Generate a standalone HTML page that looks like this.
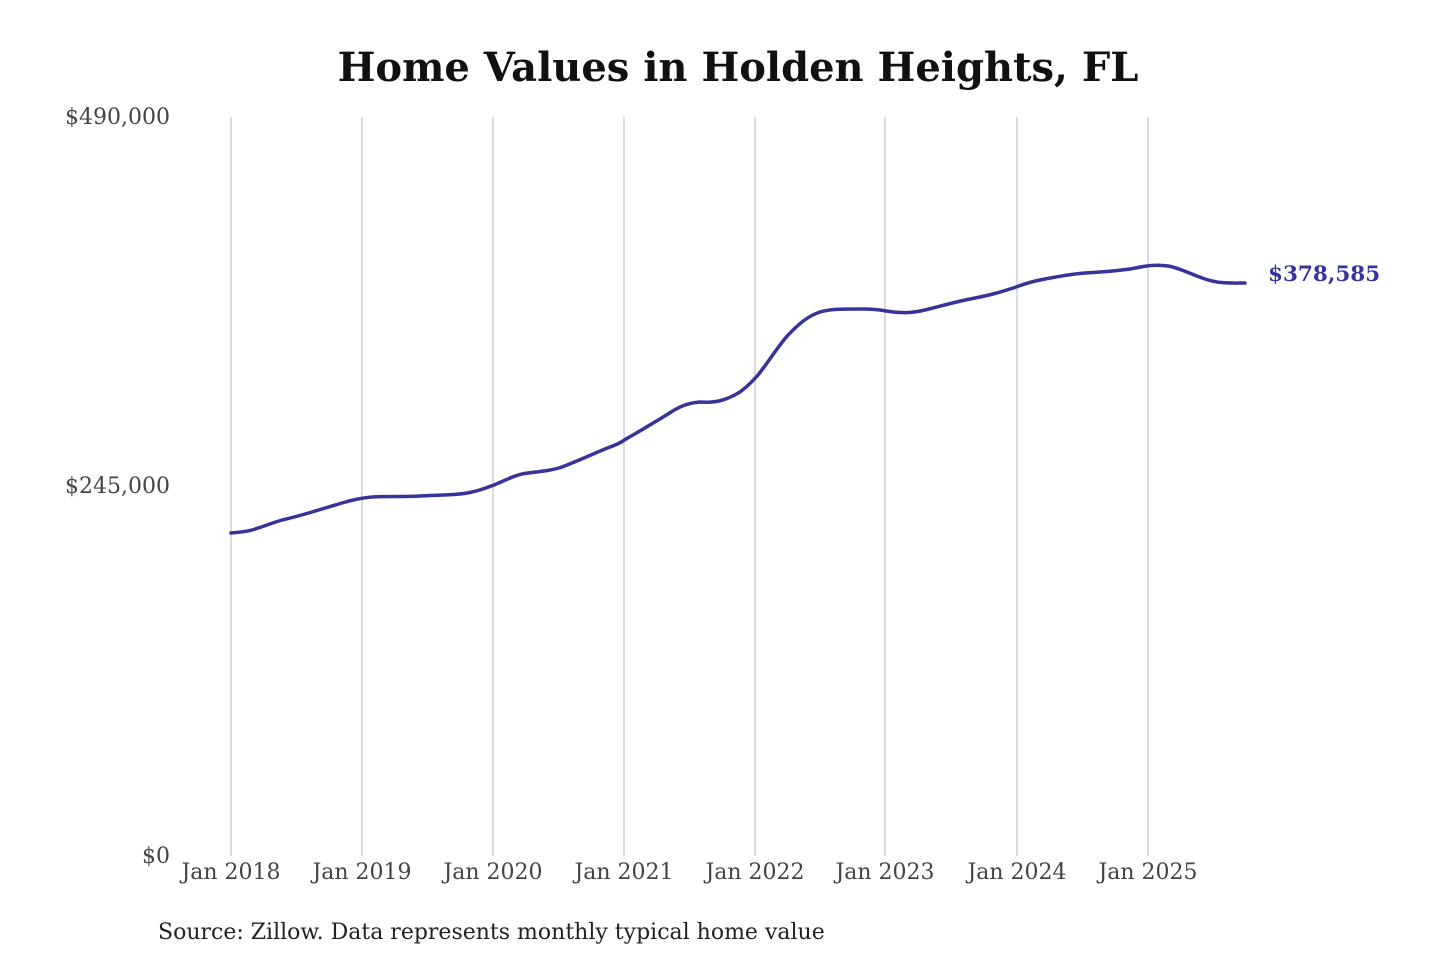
<!DOCTYPE html>
<html><head><meta charset="utf-8"><style>
body{margin:0;background:#fff;}
svg{display:block;font-family:"DejaVu Serif","Liberation Serif",serif;}
</style></head><body>
<svg width="1440" height="960" viewBox="0 0 1440 960">
<rect width="1440" height="960" fill="#fff"/>
<text x="738" y="81" text-anchor="middle" font-size="40" font-weight="bold" fill="#111">Home Values in Holden Heights, FL</text>
<g stroke="#c8c8c8" stroke-width="1.3">
<line x1="231" y1="117" x2="231" y2="856"/>
<line x1="362" y1="117" x2="362" y2="856"/>
<line x1="493" y1="117" x2="493" y2="856"/>
<line x1="624" y1="117" x2="624" y2="856"/>
<line x1="755" y1="117" x2="755" y2="856"/>
<line x1="885" y1="117" x2="885" y2="856"/>
<line x1="1017" y1="117" x2="1017" y2="856"/>
<line x1="1148" y1="117" x2="1148" y2="856"/>
</g>
<g font-size="22" fill="#444" text-anchor="end">
<text x="170" y="124">$490,000</text>
<text x="170" y="493">$245,000</text>
<text x="170" y="863">$0</text>
</g>
<g font-size="22" fill="#444" text-anchor="middle">
<text x="231" y="879">Jan 2018</text>
<text x="362" y="879">Jan 2019</text>
<text x="493" y="879">Jan 2020</text>
<text x="624" y="879">Jan 2021</text>
<text x="755" y="879">Jan 2022</text>
<text x="885" y="879">Jan 2023</text>
<text x="1017" y="879">Jan 2024</text>
<text x="1148" y="879">Jan 2025</text>
</g>
<path fill="none" stroke="#37339a" stroke-width="3.5" stroke-linejoin="round" stroke-linecap="round"
d="M231,533 C240,532 245,532 252,530 C265,526 272,523 282,520 C295,517 302,515 312,512 C325,508 332,506 342,503 C352,500 360,498 372,497 C390,496 400,497 420,496 C440,495 460,495 472,492 C482,490 488,487 494,485 C510,478 518,474 528,473 C545,471 553,470 562,467 C580,460 595,453 610,447 C618,444 620,443 626,439 C640,431 655,422 668,414 C680,406 688,403 700,402 C715,403 725,401 740,392 C748,386 752,382 758,375 C770,360 780,343 790,333 C800,323 808,316 820,312 C830,309 840,309 860,309 C875,309 880,310 893,312 C905,313 912,313 925,310 C945,305 955,302 970,299 C985,296 995,294 1010,289 C1020,286 1025,283 1040,280 C1055,277 1070,274 1085,273 C1105,272 1115,271 1130,269 C1145,266 1155,264 1168,266 C1180,268 1190,274 1205,279 C1220,284 1232,283 1245,283"/>
<text x="1268" y="281" font-size="21.5" font-weight="bold" fill="#37339a">$378,585</text>
<text x="158" y="939" font-size="22" fill="#222">Source: Zillow. Data represents monthly typical home value</text>
</svg>
</body></html>
